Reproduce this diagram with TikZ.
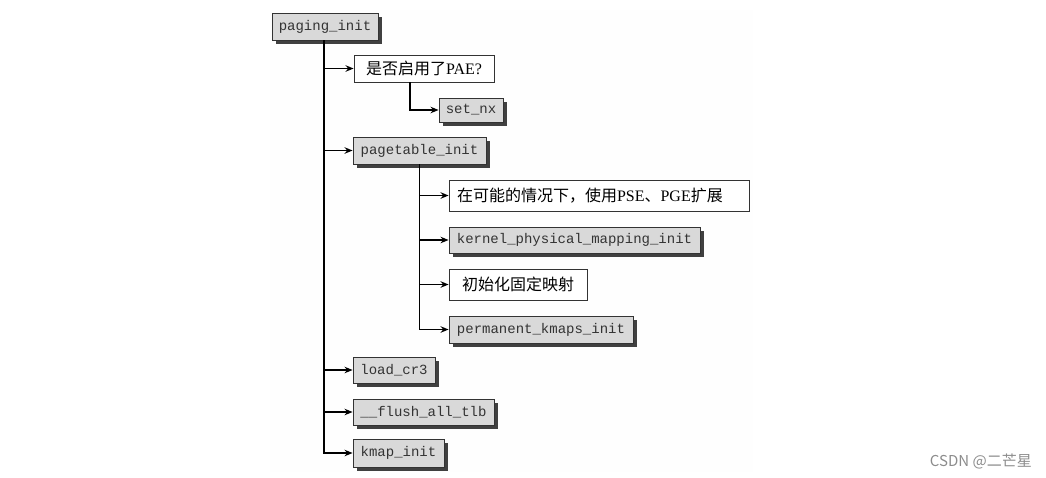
\documentclass[tikz,border=0pt]{standalone}
\usepackage{fontspec}
\setmainfont{Liberation Serif}
\newfontfamily\cjk{Noto Sans CJK SC}
\newfontfamily\monof{Liberation Mono}
\usetikzlibrary{arrows.meta,shadows}
\begin{document}
\begin{tikzpicture}[x=1pt,y=-1pt,
  fnbox/.style={draw=black!80, line width=0.9pt, fill=black!15, inner sep=0pt,
     font=\monof\fontsize{14}{14}\selectfont, text=black!80,
     drop shadow={shadow xshift=4pt, shadow yshift=-4pt, fill=black!75, opacity=1}},
  txtbox/.style={draw=black!80, line width=0.9pt, fill=white, inner sep=0pt,
     font=\fontsize{16}{16}\selectfont},
  arr/.style={line width=1.4pt, -{Stealth[length=8pt,width=6.5pt]}}]
\useasboundingbox (0,0) rectangle (1046,477);
\fill[black!0.5] (270,10) rectangle (753,472);
% nodes
\node[fnbox, minimum width=106, minimum height=27] (pi) at (325,26.5) {paging\_init};
\node[txtbox, minimum width=140, minimum height=27] (pae) at (424,68.5) {{\cjk 是否启用了}PAE?};
\node[fnbox, minimum width=64, minimum height=24] (setnx) at (471,110) {set\_nx};
\node[fnbox, minimum width=133, minimum height=27] (pti) at (419.5,150.5) {pagetable\_init};
\node[txtbox, text width=284pt, align=left, inner xsep=8pt, minimum height=31] (pse) at (599,195.5) {{\cjk 在可能的情况下，使用}PSE{\cjk 、}PGE{\cjk 扩展}};
\node[fnbox, minimum width=251, minimum height=26] (kpmi) at (574.5,240) {kernel\_physical\_mapping\_init};
\node[txtbox, minimum width=138, minimum height=31] (fix) at (518,284.5) {\cjk 初始化固定映射};
\node[fnbox, minimum width=184, minimum height=27] (pki) at (541,329.5) {permanent\_kmaps\_init};
\node[fnbox, minimum width=82, minimum height=26] (cr3) at (394,370) {load\_cr3};
\node[fnbox, minimum width=141, minimum height=26] (flush) at (423.5,412) {\_\_flush\_all\_tlb};
\node[fnbox, minimum width=91, minimum height=28] (kmap) at (398.5,453) {kmap\_init};
% connectors
\draw[arr] ([xshift=-1pt]pi.south) |- (kmap.west);
\foreach \n in {pae,pti,cr3,flush}
  \draw[arr] ([xshift=-1pt]pi.south |- \n.west) -- (\n.west);
\draw[arr] ([xshift=-14pt]pae.south) |- (setnx.west);
\draw[arr] (pti.south) |- (pki.west);
\foreach \n in {pse,kpmi,fix}
  \draw[arr] (pti.south |- \n.west) -- (\n.west);
% watermark
\node[font=\cjk\fontsize{15}{15}\selectfont, text=black!45, anchor=east, inner sep=0pt] (wm) at (1032,461) {CSDN @二芒星};
\end{tikzpicture}
\end{document}
